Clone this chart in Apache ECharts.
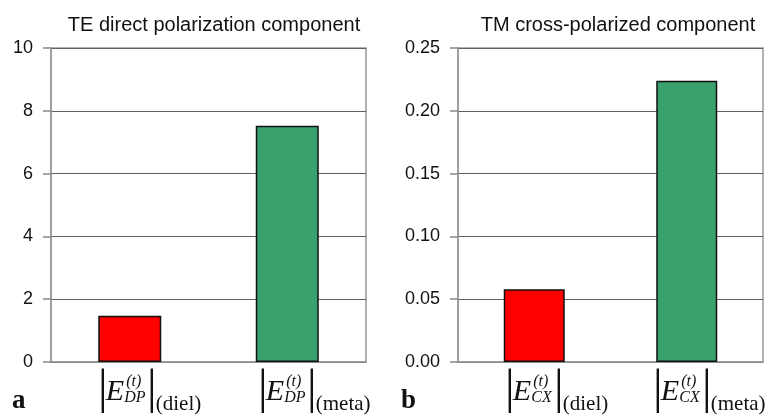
<!DOCTYPE html>
<html>
<head>
<meta charset="utf-8">
<script src="https://cdn.jsdelivr.net/npm/echarts@6/dist/echarts.min.js"></script>
<style>
  html, body { margin: 0; padding: 0; background: #fff; }
  #main { width: 774px; height: 419px; }
</style>
</head>
<body>
<div id="main"></div>
<script>
// data
const categories = ['diel', 'meta'];
const teValues = [1.47, 7.52];      // |E_DP| direct polarization
const tmValues = [0.058, 0.224];    // |E_CX| cross-polarized
const barColors = ['#ff0000', '#38a16e'];
const teTicks = { min: 0, max: 10, interval: 2 };
const tmTicks = { min: 0, max: 0.25, interval: 0.05 };
const titles = ['TE direct polarization component', 'TM cross-polarized component'];
const subscripts = ['DP', 'CX'];
const panelLetters = ['a', 'b'];

var chart = echarts.init(document.getElementById('main'));

const sans = '"Liberation Sans", Arial, sans-serif';
const serif = '"Liberation Serif", "Times New Roman", serif';

function yAxis(idx, t, fmt) {
  return {
    type: 'value', gridIndex: idx, min: t.min, max: t.max, interval: t.interval,
    axisLine: { show: true, lineStyle: { color: '#999', width: 1.5 } },
    axisTick: { show: true, length: 8, lineStyle: { color: '#888', width: 1.5 } },
    axisLabel: { color: '#111', fontSize: 18, fontFamily: sans, margin: 18, formatter: fmt },
    splitLine: { show: true, lineStyle: { color: '#606060', width: 1 } }
  };
}

function xAxis(idx) {
  return {
    type: 'category', gridIndex: idx, data: categories,
    axisLine: { show: true, lineStyle: { color: '#999', width: 1.5 } },
    axisTick: { show: false },
    axisLabel: { show: false }
  };
}

function barSeries(idx, values) {
  return {
    type: 'bar', xAxisIndex: idx, yAxisIndex: idx,
    barWidth: '40%',
    data: values.map((v, i) => ({
      value: v,
      itemStyle: { color: barColors[i], borderColor: '#111', borderWidth: 1.5 }
    }))
  };
}

chart.setOption({
  animation: false,
  title: [
    { text: titles[0], left: 209, top: 10, textAlign: 'center',
      textStyle: { fontSize: 20, fontWeight: 'normal', color: '#111', fontFamily: sans } },
    { text: titles[1], left: 613, top: 10, textAlign: 'center',
      textStyle: { fontSize: 20, fontWeight: 'normal', color: '#111', fontFamily: sans } }
  ],
  grid: [
    { left: 51, right: 408, top: 48, bottom: 57, show: true, borderColor: '#999', borderWidth: 1.5 },
    { left: 458, right: 11, top: 48, bottom: 57, show: true, borderColor: '#999', borderWidth: 1.5 }
  ],
  xAxis: [xAxis(0), xAxis(1)],
  yAxis: [
    yAxis(0, teTicks, v => String(v)),
    yAxis(1, tmTicks, v => v.toFixed(2))
  ],
  series: [barSeries(0, teValues), barSeries(1, tmValues)]
});

// math-style category labels |E^(t)_XX|_(name), placed under each category
function mathLabel(cx, sub, name) {
  const t = (text, x, y, size, style, align) => ({
    type: 'text', x: x, y: y,
    style: {
      text: text, fill: '#111',
      font: (style || '') + ' ' + size + 'px ' + serif,
      align: align || 'left', verticalAlign: 'middle',
      textAlign: align || 'left', textVerticalAlign: 'middle'
    }
  });
  return {
    type: 'group', x: cx, y: 0,
    children: [
      t('|', -24.5, 390, 48, '', 'center'),
      t('E', -21.5, 392.5, 30, 'italic'),
      t('(t)', -1, 382, 16, 'italic'),
      t(sub, -3, 398, 16, 'italic'),
      t('|', 24.5, 390, 48, '', 'center'),
      t('(' + name + ')', 28.5, 404.5, 21, '')
    ]
  };
}

const labelShift = [[-2.5, 0], [0, -4.5]];
const graphics = [];
[0, 1].forEach(function (g) {
  categories.forEach(function (c, i) {
    const cx = chart.convertToPixel({ xAxisIndex: g }, c);
    graphics.push(mathLabel(cx + labelShift[g][i], subscripts[g], c));
  });
});
graphics.push({ type: 'text', x: 12, y: 415, style: { text: panelLetters[0], font: 'bold 27px ' + serif, fill: '#111', verticalAlign: 'bottom', textVerticalAlign: 'bottom' } });
graphics.push({ type: 'text', x: 401, y: 415, style: { text: panelLetters[1], font: 'bold 27px ' + serif, fill: '#111', verticalAlign: 'bottom', textVerticalAlign: 'bottom' } });

chart.setOption({ graphic: graphics });
</script>
</body>
</html>
